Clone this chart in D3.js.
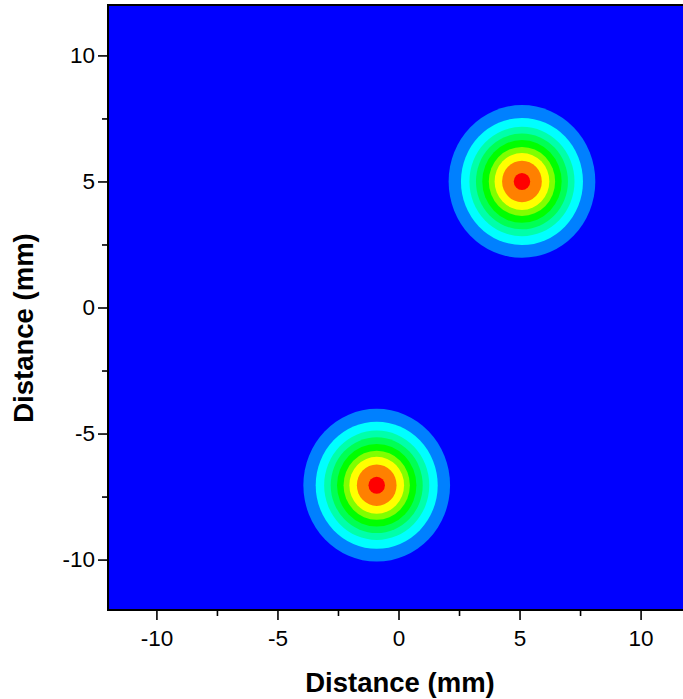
<!DOCTYPE html>
<html>
<head>
<meta charset="utf-8">
<script src="https://cdn.jsdelivr.net/npm/d3@7"></script>
<style>
  html, body { margin: 0; padding: 0; background: #fff; }
  svg { display: block; }
  text { font-family: "Liberation Sans", Arial, sans-serif; }
</style>
</head>
<body>
<div id="chart"></div>
<script>
// ---- data ----
const xDomain = [-12, 12];
const yDomain = [-12, 12];
const majorTicks = [-10, -5, 0, 5, 10];
const majorLabels = ["-10", "-5", "0", "5", "10"];
const minorTicks = [-7.5, -2.5, 2.5, 7.5];
const spotX = [5.1, -0.9];          // spot centres (mm)
const spotY = [5.0, -7.05];
// contour band outer radii (mm), outermost first
const bandRadii = [3.03, 2.52, 2.17, 1.90, 1.64, 1.37, 1.13, 0.82, 0.34];
const bandColors = ["#0080FF", "#00FFFF", "#00FFAA", "#00FF55", "#00FF00",
                    "#80FF00", "#FFFF00", "#FF8000", "#FF0000"];
const backgroundColor = "#0000FF";
const xTitle = "Distance (mm)";
const yTitle = "Distance (mm)";

// ---- layout ----
const W = 683, H = 699;
const mLeft = 108, mTop = 5, plotW = 581, plotH = 605;

const svg = d3.select("#chart").append("svg").attr("width", W).attr("height", H);

const x = d3.scaleLinear().domain(xDomain).range([mLeft, mLeft + plotW]);
const y = d3.scaleLinear().domain(yDomain).range([mTop + plotH, mTop]);

svg.append("defs").append("clipPath").attr("id", "plotclip")
  .append("rect").attr("x", mLeft).attr("y", mTop).attr("width", plotW).attr("height", plotH);

const plot = svg.append("g").attr("clip-path", "url(#plotclip)");
plot.append("rect").attr("x", mLeft).attr("y", mTop).attr("width", plotW).attr("height", plotH)
  .attr("fill", backgroundColor);

const spots = spotX.map((sx, i) => ({ sx, sy: spotY[i] }));
spots.forEach(s => {
  plot.append("g").selectAll("ellipse")
    .data(bandRadii.map((r, j) => ({ r, c: bandColors[j] })))
    .join("ellipse")
    .attr("cx", x(s.sx))
    .attr("cy", y(s.sy))
    .attr("rx", d => x(s.sx + d.r) - x(s.sx))
    .attr("ry", d => y(s.sy) - y(s.sy + d.r))
    .attr("fill", d => d.c);
});

// frame
svg.append("rect").attr("x", mLeft).attr("y", mTop).attr("width", plotW).attr("height", plotH)
  .attr("fill", "none").attr("stroke", "#000").attr("stroke-width", 2);

// axes
const labelOf = d => majorLabels[majorTicks.indexOf(d)];
function styleAxis(g) {
  g.select(".domain").remove();
  g.selectAll("line").attr("stroke", "#000").attr("stroke-width", 1.6);
  g.selectAll("text").attr("font-size", 22.5).attr("fill", "#000")
    .attr("font-family", "'Liberation Sans', Arial, sans-serif");
}

const xAxisG = svg.append("g").attr("transform", `translate(0,${mTop + plotH + 1})`)
  .call(d3.axisBottom(x).tickValues(majorTicks).tickSize(9).tickPadding(10).tickFormat(labelOf));
styleAxis(xAxisG);
const xMinorG = svg.append("g").attr("transform", `translate(0,${mTop + plotH + 1})`)
  .call(d3.axisBottom(x).tickValues(minorTicks).tickSize(5).tickFormat(""));
styleAxis(xMinorG);

const yAxisG = svg.append("g").attr("transform", `translate(${mLeft - 1},0)`)
  .call(d3.axisLeft(y).tickValues(majorTicks).tickSize(9).tickPadding(3).tickFormat(labelOf));
styleAxis(yAxisG);
const yMinorG = svg.append("g").attr("transform", `translate(${mLeft - 1},0)`)
  .call(d3.axisLeft(y).tickValues(minorTicks).tickSize(5).tickFormat(""));
styleAxis(yMinorG);

// titles
svg.append("text").attr("x", 400).attr("y", 692)
  .attr("text-anchor", "middle").attr("font-size", 27.5).attr("font-weight", "bold")
  .text(xTitle);
svg.append("text")
  .attr("transform", `translate(33,328) rotate(-90)`)
  .attr("text-anchor", "middle").attr("font-size", 27.5).attr("font-weight", "bold")
  .text(yTitle);
</script>
</body>
</html>
